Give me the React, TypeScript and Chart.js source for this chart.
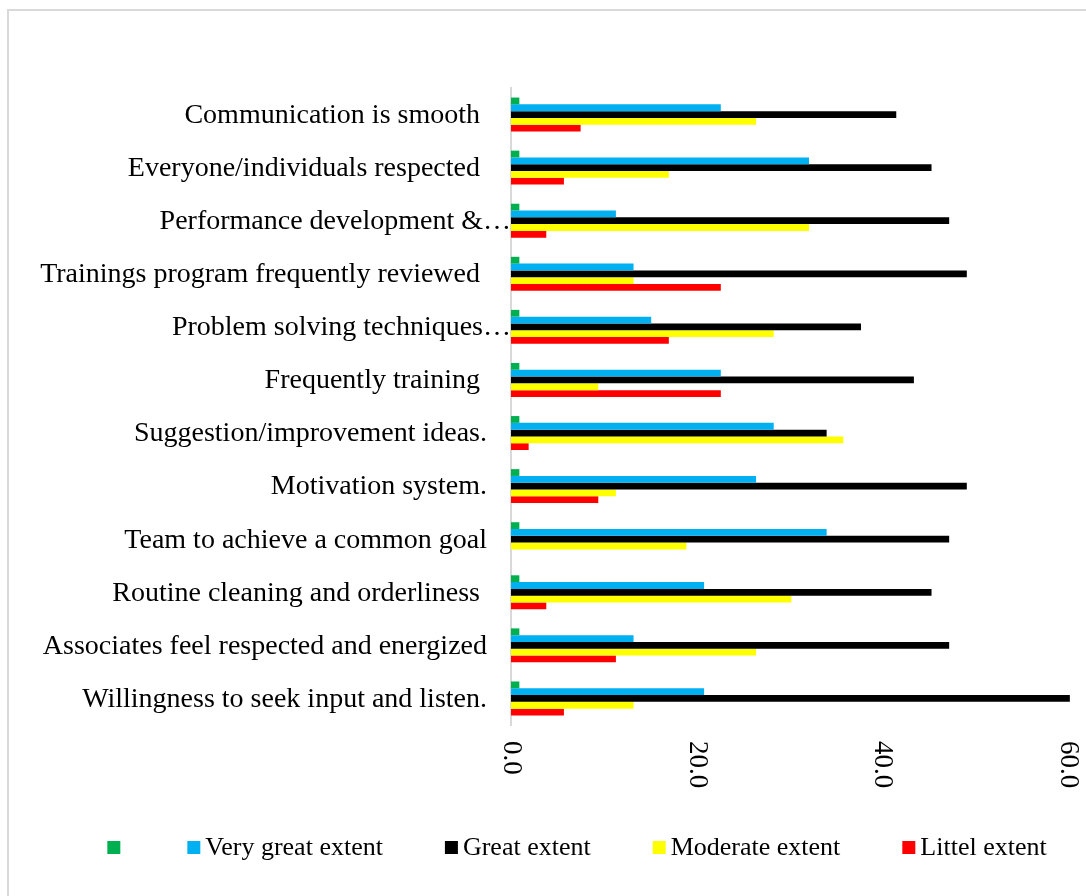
import React, { useEffect, useRef } from 'react';
import { Chart, registerables } from 'chart.js';

Chart.register(...registerables);

const categories = [
  'Communication is smooth ',
  'Everyone/individuals respected ',
  'Performance development &…',
  'Trainings program frequently reviewed ',
  'Problem solving techniques…',
  'Frequently training ',
  'Suggestion/improvement ideas.',
  'Motivation system.',
  'Team to achieve a common goal',
  'Routine cleaning and orderliness ',
  'Associates feel respected and energized',
  'Willingness to seek input and listen.',
];

const seriesNames = ['', 'Very great extent', 'Great extent', 'Moderate extent', 'Littel extent'];
const seriesColors = ['#00B050', '#00B0F0', '#000000', '#FFFF00', '#FF0000'];

const unlabeled = [0.9, 0.9, 0.9, 0.9, 0.9, 0.9, 0.9, 0.9, 0.9, 0.9, 0.9, 0.9];
const veryGreat = [22.6, 32.1, 11.3, 13.2, 15.1, 22.6, 28.3, 26.4, 34.0, 20.8, 13.2, 20.8];
const great = [41.5, 45.3, 47.2, 49.1, 37.7, 43.4, 34.0, 49.1, 47.2, 45.3, 47.2, 60.2];
const moderate = [26.4, 17.0, 32.1, 13.2, 28.3, 9.4, 35.8, 11.3, 18.9, 30.2, 26.4, 13.2];
const little = [7.5, 5.7, 3.8, 22.6, 17.0, 22.6, 1.9, 9.4, 0, 3.8, 11.3, 5.7];

const xTickValues = [0, 20, 40, 60];
const xTickLabels = ['0.0', '20.0', '40.0', '60.0'];

const SERIF = '"Liberation Serif", "Times New Roman", serif';

const labelPlugin = {
  id: 'customLabels',
  afterDraw(chart: any) {
    const ctx = chart.ctx as CanvasRenderingContext2D;
    const area = chart.chartArea;
    const yScale = chart.scales.y;
    const xScale = chart.scales.x;
    ctx.save();
    ctx.fillStyle = '#000000';

    // category labels
    ctx.font = `28px ${SERIF}`;
    ctx.textAlign = 'right';
    ctx.textBaseline = 'middle';
    categories.forEach((label, i) => {
      const y = yScale.getPixelForValue(i);
      const right = label.endsWith('…') ? area.left : area.left - 24;
      ctx.fillText(label, right, y + 1);
    });

    // value tick labels, rotated clockwise
    ctx.font = `27px ${SERIF}`;
    xTickValues.forEach((v, i) => {
      const x = xScale.getPixelForValue(v);
      ctx.save();
      ctx.translate(x, area.bottom + 16);
      ctx.rotate(Math.PI / 2);
      ctx.textAlign = 'left';
      ctx.textBaseline = 'middle';
      ctx.fillText(xTickLabels[i], 0, 0);
      ctx.restore();
    });

    // legend
    ctx.font = `26px ${SERIF}`;
    ctx.textAlign = 'left';
    ctx.textBaseline = 'middle';
    const box = 13;
    const textGap = 5;
    const itemGap = 62;
    const datasets = chart.data.datasets;
    const widths = datasets.map((d: any) => box + textGap + (d.label ? ctx.measureText(d.label).width : 0));
    const total = widths.reduce((a: number, b: number) => a + b, 0) + itemGap * (widths.length - 1);
    let x = 577 - total / 2;
    const cy = 847.5;
    datasets.forEach((d: any, i: number) => {
      ctx.fillStyle = d.backgroundColor;
      ctx.fillRect(x, cy - box / 2, box, box);
      ctx.fillStyle = '#000000';
      if (d.label) ctx.fillText(d.label, x + box + textGap, cy + 1);
      x += widths[i] + itemGap;
    });
    ctx.restore();
  },
};

export default function App() {
  const canvasRef = useRef<HTMLCanvasElement | null>(null);

  useEffect(() => {
    if (!canvasRef.current) return;
    const seriesValues = [unlabeled, veryGreat, great, moderate, little];
    const chart = new Chart(canvasRef.current, {
      type: 'bar',
      data: {
        labels: categories,
        datasets: seriesValues.map((vals, i) => ({
          label: seriesNames[i],
          data: vals,
          backgroundColor: seriesColors[i],
          borderWidth: 0,
          clip: false as any,
        })),
      },
      options: {
        indexAxis: 'y',
        responsive: false,
        maintainAspectRatio: false,
        animation: false,
        layout: { padding: { top: 88, right: 18, left: 0, bottom: 0 } },
        datasets: { bar: { categoryPercentage: 0.64, barPercentage: 1.0 } },
        plugins: { legend: { display: false }, tooltip: { enabled: false } },
        scales: {
          x: {
            min: 0,
            max: 60,
            ticks: { display: false, stepSize: 20 },
            grid: { display: false },
            border: { display: false },
            afterFit: (s: any) => {
              s.height = 171;
            },
          },
          y: {
            ticks: { display: false },
            grid: { display: false, drawTicks: false },
            border: { display: true, color: '#d9d9d9', width: 2 },
            afterFit: (s: any) => {
              s.width = 511;
            },
          },
        },
      } as any,
      plugins: [labelPlugin],
    });
    return () => chart.destroy();
  }, []);

  return (
    <div
      style={{
        position: 'absolute',
        left: 0,
        top: 0,
        width: 1086,
        height: 896,
        overflow: 'hidden',
        background: '#ffffff',
      }}
    >
      <div
        style={{
          position: 'absolute',
          left: 7,
          top: 9,
          width: 1200,
          height: 1000,
          border: '2px solid #d9d9d9',
        }}
      />
      <canvas
        ref={canvasRef}
        width={1086}
        height={896}
        style={{ position: 'absolute', left: 0, top: 0, width: 1086, height: 896 }}
      />
    </div>
  );
}
